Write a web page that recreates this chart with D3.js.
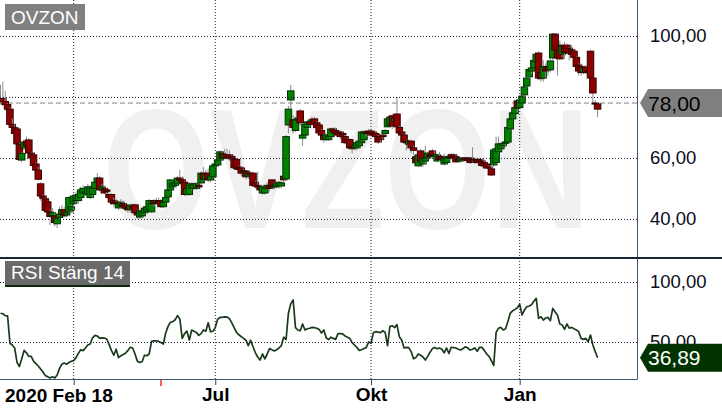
<!DOCTYPE html>
<html>
<head>
<meta charset="utf-8">
<script src="https://cdn.jsdelivr.net/npm/d3@7"></script>
<style>
  body { margin: 0; background: #fff; }
  svg { display: block; }
</style>
</head>
<body>
<svg id="chart" width="722" height="411"></svg>
<script>
// OVZON daily candles, Feb 18 2020 - Feb 2021, with RSI(14)

const opens = [
  78.5,79.5,78.5,77.5,76,71,70,69.5,64.5,59.3,
  63.3,65.5,65.9,61.6,61,58,56,51.5,47.5,46.6,
  45.6,42.3,41,41,38.4,40.5,41.6,43,41.3,42.3,
  43,45,46,46,47,48.5,48.5,48,47,48,
  50,52,53.4,49.5,50,49.5,48,48,46,45.5,
  43.6,44.5,45,44.5,43.5,43,44,44.6,42,40.6,
  41,42,42.5,43,42.3,46,45.5,46,46,44,
  45.5,47.2,49.5,50.5,51,51.5,53.4,52.8,52,48,
  48,50,50,50,51,51.8,55,53,55,52.8,
  53.8,57.4,57.7,59.3,61.5,60,61,61,60.5,59.7,
  59.5,57,56.7,55.5,55.7,54,55,55,52,51,
  50.5,48.5,48.5,50,51,52.8,50.5,50.5,51,50.8,
  54,53.1,70.8,79,72.5,69,72.5,75.4,66.5,67.5,
  70,71.8,72,72.8,71.5,70.8,69,67.5,66,66,
  67,69.5,69,68.5,68.5,68,67,66,66,63.6,
  63.3,63.3,64,65,66,68.5,68.8,68.8,68.5,68,
  67,67,67.5,68,70.2,70.8,73.8,72,74.4,70,
  68.5,67.5,65.5,64.5,65.5,63.3,60.4,57.4,62.3,58,
  59,60,61,62.3,60.6,59,60.5,60.5,58,58.5,
  60,61,61,60.4,59.5,59,59.5,60,59.8,60,
  59.5,59,59.5,59.5,59,58.5,58,57,56.4,57.7,
  58.5,62,63,64,64.8,65.2,69.5,72.8,74.5,78.7,
  76.5,78,80.7,83.6,86.6,88.5,89.5,91.5,94.4,88,
  86.2,89.5,90,88.9,92.8,100.6,95.4,97,94,96.7,
  97,96,95.5,95,93,90.5,90,88,89.8,88.5,
  95,86.2,78,77.7
];
const highs = [
  84,85,82,78,76.5,73,71,70,65,62,
  66,67,66.5,62,61.5,58.5,57,52,48,47,
  46,43,43.5,42,42,44,44.5,44,45.5,47.5,
  45,48,49,49,50.5,51,50.5,51.5,51,51,
  53,55,54,51.5,51,50,49,48.5,47,46.5,
  46,46.5,46,45,44.5,45,45,45,43,43,
  43.5,44,45,46.5,46,46.5,47,47,46.5,46.5,
  48,50,53,52.5,53,54,56,54,52.5,50.5,
  52,52,52,52,52,55.5,57,56,56.5,55,
  58,59,60,62.5,62,63,63,62.5,61,60,
  60,57.5,57,56.5,56,55.5,55.5,55.5,52.5,55.5,
  51,51,51,52,52,53,52,52,52.5,52,
  54.5,67.5,77,84,74,73.5,74,76,68.5,71.5,
  72.5,73,73.5,73.5,72,71,69.5,68,68,68,
  70,70,70,69,69,68.5,67.5,66.5,66.5,64,
  64.5,65.5,66,69,69,69,69.5,69.5,69,68.5,
  67.5,67.5,68,69.5,73,74,74.5,74,80,70.5,
  69,68,66,66,66,64,61,61.5,63,60,
  64,62,62,63,62.5,61.5,62,61,61.5,60.5,
  61.5,61.5,61.5,61,60,60.2,60.3,60.3,60.2,60.3,
  63.5,60,60,60,59.5,59,58.5,57.5,57,63,
  67,67,65,65.5,66,70.5,73,75.5,77,79,
  80,81,84,86.5,89.5,90.5,92.5,94.5,95,90,
  92,91,92,92.5,101,101,96,98.5,97.5,98,
  97.5,96.5,97,95.5,93.5,91,91,90,90.5,89.5,
  95.5,86.5,79,78
];
const lows = [
  77.5,77,75.5,74,70,69,67,64,59,58.5,
  62.5,63,60.5,59,57,55,52.5,46,44,42,
  41,38,39,37.5,37,40,41,40.5,40.5,42,
  42,42,45,45,46.5,48,47.5,47,46.5,47,
  49.5,51.5,49,48.5,48,47.5,46,44.5,44,43.5,
  43,43.5,43,42.5,42,42,42.5,41,40,40,
  40.5,41.5,42,42.5,42,44,45,44.5,43.5,43.5,
  45,47,49,50,50.5,51,52,51.5,47.5,47.5,
  47.5,49.5,49.5,49.5,50,51.5,52.5,52.5,52,52,
  53.5,57,57,59,59.5,59.5,59.5,59,58.5,56,
  56,55,54,54,53,53,53.5,50.5,50,49.5,
  48.5,48,48,49.5,49,50,49.5,50,50,50,
  52,52.5,68,76,68,68.5,71.5,70.5,64,67,
  69.5,70,71,70.5,69,67.5,67,65,65.5,65.5,
  66.5,68,67.5,67,66,66.5,64.5,64,63,61.5,
  62.5,62.5,63.5,64.5,65.5,67,67.5,67,67,66,
  64.5,65,66,67.5,70,70.5,69.5,71,69.5,67.5,
  65.5,64.5,62.5,64,61.5,61,57.5,57,58,57,
  58,59.5,60,60,59.5,58.5,59,59,57.5,58,
  59.5,59.5,59.5,58.5,58.5,58.5,59,59,58.5,58,
  58.5,58,58,58.5,57,57,56.5,55.5,54,57,
  58,61.5,62.5,63.5,63.5,65,69,72.5,74,75,
  76,77.5,80,83,86,87.5,89,90,85.5,85,
  85,86,87,88,92,94.5,87,92,93,92.5,
  94,92,93,92.5,88.5,87,87,87.5,87.5,87,
  86,78,76.5,73.4
];
const closes = [
  79.5,78.5,77.5,76,71,70,68,64.6,59.5,61.5,
  65.2,64,61.6,60,57.5,56,53,47.5,46.8,42.8,
  42.3,40.8,42,38.8,40.3,41.5,43,41,42,47,
  44,47.5,47.8,48,49.5,50,49,50.5,50.5,50,
  52,53.4,49.5,50.5,48.5,49,47,45.5,45,45,
  45,45.5,44,43.5,43,44.5,43.5,42,41.3,42.6,
  42.5,43.5,44,46,45,45,46,45,44,45.5,
  47,49.5,52.8,51.5,52,53.4,52.8,52,48,50,
  51.5,51,51.5,51.5,50.5,55,53,54.5,52.8,54,
  57.4,58,59.3,62,60,61,60,60,59.7,56.8,
  56.5,56.2,55,55.8,53.8,55,54.5,51,50.8,50.5,
  49.5,50.5,50,51,50,50.5,51,51.5,52,51.8,
  52.8,67,76,82,70,72.5,73,71.5,67.5,71,
  71.8,71,72.5,71,70,68.2,67.5,66,67.5,67,
  69.5,68.5,68,67.5,67,67.5,65,65,63.3,63,
  64,65,65.5,68.5,68.5,68,68.3,67.5,67.8,67,
  65.2,66,67,69,72.8,73.4,70.5,73,70.2,68.2,
  67.5,65.2,65,65.5,63.3,62.5,58.4,61,58.7,59.7,
  60,61.6,60.5,60.6,61,61,59.5,59.5,60,60,
  60.5,60,60.2,58.7,59,59.8,60,59.3,59.2,58.5,
  59.2,59.5,58.5,59,57.5,57.4,56.7,56.8,54.4,62.6,
  63,64.6,64.5,64.8,65.2,70,72.8,74.8,76.5,76.4,
  79,80.3,83.3,86.2,89,89.5,92,94,86.2,86,
  90,88.5,88.9,91.8,100.6,95.4,92.8,92.5,96.7,94.5,
  94.7,94.4,94,93,90,88.5,88,89.5,88,88.2,
  86.2,81.3,77.8,76
];
const rsi = [
  74,73.5,72,71.7,49,47.5,45,33,29.5,36,
  43,41,38,38,34,32,30,27.5,25,22,
  21,20,21,20,22.5,28,31.5,32.5,31.5,33,
  34,34.5,37,40.5,43.5,42.8,45,47.5,48.3,53.5,
  55.5,55,53.3,53.5,53.3,52.5,48,43,39,44,
  37,38.5,39.5,40.6,43,45.6,45,40,34,33,
  33.5,39,38.5,40,50.5,51,51,50.5,49.5,48.3,
  57.5,63,66.5,67,68.5,72,69,53,57,59,
  51.7,60,59,58,55.5,57,60,59,66,58.5,
  59,62,69,70.5,70.6,71,70.8,69.5,66,62,
  58,56,54.5,53,51.5,47,51.5,46,41,37.5,
  35,40,36,40,44.5,43.5,42.5,43.5,45,47,
  54,52,74,82,85,62,60,59.4,65,60,
  61,61.5,62.2,62,61.5,60.5,57.5,60,53.5,52,
  54,53,52.2,57,57,56.7,55,54,53,49.5,
  47.5,45.5,43,43.5,44.5,45.5,50,49,57.8,58.6,
  58.2,57.8,59.4,58,47,63,63.5,62,64.5,54.4,
  51.7,45,45.5,45.3,42,36,37,40,39,37.5,
  35,38,41.5,44.5,45.5,44.4,45,44,41,45,
  40.5,45.6,45.3,45,44,43.3,44.5,46,45,43.3,
  44,45,42.2,45.6,45.5,43,40,38,34.4,30.5,
  58,61.5,62.2,60,61,67,74,76,77.2,78.5,
  81.5,72.5,76.7,79.4,80,81,84,86.4,69.7,71,
  68.3,70,70.5,67.8,78,75,72.5,65,64.2,60.6,
  65,61.5,62.2,61,60,58.6,53,52.2,53,50.3,
  55.8,47.5,42,36.89
];

// first trading day of Apr, Jul, Okt, Jan (bar index)
const monthIdx = [31, 91, 157, 220];
const monthLabels = ["", "Jul", "Okt", "Jan"];
const startLabel = "2020 Feb 18";
const markIdx = 68;
const priceTicks = [40, 60, 80, 100];
const rsiTicks = [50, 100];
const lastPrice = 78;
const lastRsi = 36.89;

const FONT = "'Liberation Sans', Arial, sans-serif";
const plotR = 637, pTop = 0, pBot = 257, rTop = 259, rBot = 379;

const svg = d3.select("#chart");
const fmt = v => d3.format(".2f")(v).replace(".", ",");

const x = d3.scaleLinear().domain([0, 270]).range([0.5, 637.7]);
const yP = d3.scaleLinear().domain([27.5, 111.8]).range([pBot, pTop]);
const yR = d3.scaleLinear().domain([0, 100]).range([402, 282]);

const defs = svg.append("defs");
defs.append("clipPath").attr("id", "clipP")
  .append("rect").attr("x", 0).attr("y", pTop).attr("width", plotR).attr("height", pBot - pTop);
defs.append("clipPath").attr("id", "clipR")
  .append("rect").attr("x", 0).attr("y", rTop).attr("width", plotR).attr("height", rBot - rTop);

// watermark (narrow letters: scaled up vertically)
svg.append("text")
  .attr("transform", "translate(103,228) scale(1,1.24)")
  .attr("textLength", 487).attr("lengthAdjust", "spacingAndGlyphs")
  .attr("font-family", FONT).attr("font-weight", "bold").attr("font-size", 138)
  .attr("fill", "#f0f0f0")
  .text("OVZON");

// last price line
svg.append("line")
  .attr("x1", 0).attr("x2", plotR)
  .attr("y1", yP(lastPrice)).attr("y2", yP(lastPrice))
  .attr("stroke", "#808080").attr("stroke-dasharray", "5,3");

// candles
const cw = 6.5;
const candles = svg.append("g").attr("clip-path", "url(#clipP)")
  .selectAll("g").data(closes).join("g");

candles.append("line")
  .attr("x1", (d, i) => x(i)).attr("x2", (d, i) => x(i))
  .attr("y1", (d, i) => yP(highs[i])).attr("y2", (d, i) => yP(lows[i]))
  .attr("stroke", "#8a8a8a");

candles.append("rect")
  .attr("x", (d, i) => x(i) - cw / 2)
  .attr("width", cw)
  .attr("y", (d, i) => yP(Math.max(opens[i], d)))
  .attr("height", (d, i) => Math.max(1, Math.abs(yP(opens[i]) - yP(d))))
  .attr("fill", (d, i) => d >= opens[i] ? "#008200" : "#8b0000")
  .attr("stroke", (d, i) => d >= opens[i] ? "#003000" : "#3a0000")
  .attr("stroke-width", 1);

// RSI line
svg.append("path")
  .attr("clip-path", "url(#clipR)")
  .datum(rsi)
  .attr("fill", "none")
  .attr("stroke", "#1b3a1b")
  .attr("stroke-width", 1.7)
  .attr("stroke-linejoin", "round")
  .attr("d", d3.line().x((d, i) => x(i)).y(d => yR(d)));

// grids + right axes
function rightAxis(scale, ticks, hideNear) {
  const g = svg.append("g")
    .attr("transform", `translate(${plotR},0)`)
    .call(d3.axisRight(scale).tickValues(ticks).tickSize(-plotR).tickPadding(13).tickFormat(fmt));
  g.attr("font-family", FONT).attr("font-size", 18.5).attr("color", "#0b0b20");
  g.select(".domain").remove();
  g.selectAll(".tick line").attr("stroke", "#1b1b30").attr("stroke-dasharray", "1,2");
  // a label hidden under the value tag is not drawn
  if (hideNear != null) {
    g.selectAll(".tick text").filter(d => Math.abs(scale(d) - scale(hideNear)) < 10).remove();
  }
  return g;
}
rightAxis(yP, priceTicks, lastPrice);
rightAxis(yR, rsiTicks, null);

// vertical grid lines
svg.append("g").selectAll("line").data(monthIdx).join("line")
  .attr("x1", d => x(d)).attr("x2", d => x(d))
  .attr("y1", 0).attr("y2", rBot)
  .attr("stroke", "#1b1b30").attr("stroke-dasharray", "1,2");

// bottom axis
const xa = svg.append("g")
  .attr("transform", `translate(0,${rBot})`)
  .call(d3.axisBottom(x).tickValues(monthIdx).tickSize(6).tickPadding(3)
    .tickFormat((d, i) => monthLabels[i]));
xa.attr("font-family", FONT).attr("font-size", 19).attr("font-weight", "bold").attr("color", "#000");
xa.select(".domain").remove();
xa.selectAll(".tick line").attr("stroke", "#2c4660");

svg.append("text")
  .attr("x", 5).attr("y", 402)
  .attr("font-family", FONT).attr("font-size", 19).attr("font-weight", "bold")
  .text(startLabel);

svg.append("line")
  .attr("x1", x(markIdx)).attr("x2", x(markIdx))
  .attr("y1", rBot + 1).attr("y2", rBot + 7)
  .attr("stroke", "#ff5a5a").attr("stroke-width", 2);

// frame
svg.append("line").attr("x1", plotR + 0.5).attr("x2", plotR + 0.5).attr("y1", 0).attr("y2", rBot)
  .attr("stroke", "#3c5670");
svg.append("line").attr("x1", 0).attr("x2", plotR + 0.5).attr("y1", rBot + 0.5).attr("y2", rBot + 0.5)
  .attr("stroke", "#3c5670");
svg.append("line").attr("x1", 0).attr("x2", 722).attr("y1", 258).attr("y2", 258)
  .attr("stroke", "#172838").attr("stroke-width", 2);

// panel labels
svg.append("rect").attr("x", 5).attr("y", 4).attr("width", 80).attr("height", 26).attr("fill", "#808080");
svg.append("text").attr("x", 11).attr("y", 23.5)
  .attr("font-family", FONT).attr("font-size", 19).attr("fill", "#fff").text("OVZON");

svg.append("rect").attr("x", 5).attr("y", 261).attr("width", 125).attr("height", 25).attr("fill", "#6a6a6a");
svg.append("rect").attr("x", 5).attr("y", 285).attr("width", 125).attr("height", 2).attr("fill", "#0c2a0c");
svg.append("text").attr("x", 11).attr("y", 279)
  .attr("font-family", FONT).attr("font-size", 19).attr("fill", "#fff").text("RSI Stäng 14");

// value tags
function tag(yc, fill, color, label) {
  const t = yc - 14, b = yc + 14;
  svg.append("path")
    .attr("d", `M640,${yc}L648,${t}H722V${b}H648Z`)
    .attr("fill", fill);
  svg.append("text").attr("x", 648).attr("y", yc + 7.5)
    .attr("font-family", FONT).attr("font-size", 21).attr("fill", color)
    .text(label);
}
tag(yP(lastPrice), "#808080", "#000", fmt(lastPrice));
tag(yR(lastRsi), "#003300", "#fff", fmt(lastRsi));
</script>
</body>
</html>
